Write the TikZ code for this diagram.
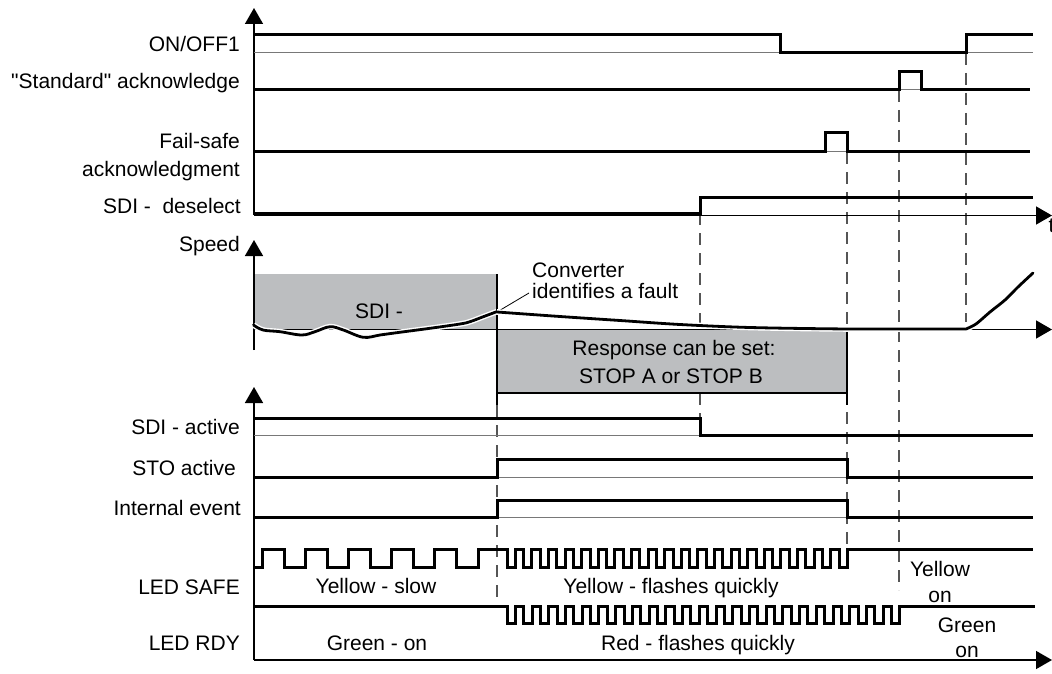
\documentclass[tikz,border=0pt]{standalone}
\usepackage{fontspec}
\setmainfont{Liberation Sans}[Ligatures=TeXOff]
\usetikzlibrary{arrows.meta}
\definecolor{boxgray}{RGB}{188,190,192}
\definecolor{thingray}{RGB}{120,120,120}
\definecolor{dashgray}{RGB}{85,85,85}
\begin{document}
\begin{tikzpicture}[x=1pt,y=-1pt,
  lbl/.style={font=\fontsize{21}{25}\selectfont, inner sep=0pt, text=black},
  sig/.style={line width=3pt, line join=miter, line cap=butt},
  thinln/.style={line width=1pt, thingray},
  axisln/.style={line width=1.5pt, -{Triangle[length=16pt,width=18pt]}},
  edge/.style={line width=1.5pt},
  vdash/.style={line width=1.2pt, dashgray, dash pattern=on 12pt off 8pt},
  curve/.style={line width=2.8pt, line join=round, line cap=round, preaction={draw, white, line width=5.6pt}}
]
\useasboundingbox (0,0) rectangle (1052,674);

% ---------- dashed guide lines ----------
\draw[vdash] (497,405) -- (497,606);
\draw[vdash] (700,213) -- (700,418);
\draw[vdash] (847,152) -- (847,549);
\draw[vdash] (899,90) -- (899,590);
\draw[vdash] (966,53) -- (966,322);

% ---------- top section ----------
\draw[axisln] (254,215) -- (254,8);
\draw[axisln] (254,215.5) -- (1052,215.5);

\node[lbl, anchor=base east] (lonoff) at (240,52) {ON/OFF1};
\node[lbl, anchor=base east] (lstd) at (240,89) {"Standard" acknowledge};
\node[lbl, anchor=base east] (lfs1) at (240,149) {Fail-safe};
\node[lbl, anchor=base east] (lfs2) at (240,176) {acknowledgment};
\node[lbl, anchor=base east] (ldes) at (241,213) {SDI -\ \ deselect};
\node[lbl, anchor=north west] (t1) at (1048.5,219) {t};

\draw[thinln] (254,53) -- (1033,53);
\draw[sig] (254,35) -- (780,35) -- (780,53) -- (966,53) -- (966,35) -- (1033,35);

\draw[thinln] (899,90) -- (921,90);
\draw[sig] (254,90) -- (899,90) -- (899,72) -- (921,72) -- (921,90) -- (1030,90);

\draw[thinln] (825,152) -- (847,152);
\draw[sig] (254,152) -- (825,152) -- (825,133) -- (847,133) -- (847,152) -- (1030,152);

\draw[sig] (254,213.5) -- (700,213.5) -- (700,197) -- (1033,197);

% ---------- speed section ----------
\fill[boxgray] (254,274) rectangle (497,329);
\fill[boxgray] (497,329) rectangle (847,393);
\draw[edge] (497,274) -- (497,405);
\draw[edge] (497,393) -- (847,393);
\draw[edge] (847,329) -- (847,405);

\draw[axisln] (254,350) -- (254,240);
\draw[axisln] (254,329.5) -- (1052,329.5);

\node[lbl, anchor=base east] (lspeed) at (240,251) {Speed};
\node[lbl, anchor=base] (tsdi) at (379,318) {SDI -};
\node[lbl, anchor=base] (tresp1) at (674,355) {Response can be set:};
\node[lbl, anchor=base] (tresp2) at (671,383) {STOP A or STOP B};
\node[lbl, anchor=base west] (tconv1) at (532,277) {Converter};
\node[lbl, anchor=base west] (tconv2) at (532,298) {identifies a fault};
\coordinate (fault) at (497,312);
\draw[line width=0.8pt, black] (fault) -- (529,293);

\draw[curve] plot[smooth, tension=0.6] coordinates {(253.5,325) (263,330) (280,331.7) (301.7,335) (315,331.7) (330,326.7) (343.3,330) (363.3,337.3) (380,335) (396.7,332.7) (430,328.3) (460,324) (470,321.7) (483.3,316.7) (496.7,311.7)};
\draw[curve] plot[smooth, tension=0.5] coordinates {(497,312) (560,316.5) (620,320.5) (680,324.5) (750,327.5) (850,329) (966,329)};
\draw[curve] plot[smooth, tension=0.5] coordinates {(966,329) (976,324) (990,312) (1005,300) (1018,287) (1033,273)};

% ---------- bottom section ----------
\draw[axisln] (254,660) -- (254,387);
\draw[axisln] (254,660) -- (1052,660);

\node[lbl, anchor=base east] (lsdia) at (240,434) {SDI - active};
\node[lbl, anchor=base east] (lsto) at (236,475) {STO active};
\node[lbl, anchor=base east] (lint) at (241,515) {Internal event};
\node[lbl, anchor=base east] (lsafe) at (240,594) {LED SAFE};
\node[lbl, anchor=base east] (lrdy) at (240,650) {LED RDY};

\draw[thinln] (254,435) -- (1033,435);
\draw[sig] (254,418) -- (700,418) -- (700,435) -- (1033,435);

\draw[thinln] (254,477) -- (1033,477);
\draw[sig] (254,477) -- (497,477) -- (497,459) -- (847,459) -- (847,477) -- (1033,477);

\draw[thinln] (254,517) -- (1033,517);
\draw[sig] (254,517) -- (497,517) -- (497,500) -- (847,500) -- (847,517) -- (1033,517);

% LED SAFE
\draw[sig] (254,567)
  \foreach \i in {0,...,4} { -- ({262+43.2*\i},567) -- ({262+43.2*\i},549) -- ({284+43.2*\i},549) -- ({284+43.2*\i},567) }
  -- (478,567) -- (478,549)
  \foreach \i in {0,...,20} { -- ({507+16.6*\i},549) -- ({507+16.6*\i},567) -- ({515.3+16.6*\i},567) -- ({515.3+16.6*\i},549) }
  -- (1033,549);

% LED RDY
\draw[sig] (254,606)
  \foreach \i in {0,...,23} { -- ({507+16.72*\i},606) -- ({507+16.72*\i},623.5) -- ({515.36+16.72*\i},623.5) -- ({515.36+16.72*\i},606) }
  -- (1035,606);

\node[lbl, anchor=base] (tys) at (376,593) {Yellow - slow};
\node[lbl, anchor=base] (tyf) at (671,593) {Yellow - flashes quickly};
\node[lbl, anchor=base] (tyon1) at (940,576) {Yellow};
\node[lbl, anchor=base] (tyon2) at (940,602) {on};
\node[lbl, anchor=base] (tgo) at (377,650) {Green - on};
\node[lbl, anchor=base] (trf) at (698,650) {Red - flashes quickly};
\node[lbl, anchor=base] (tgon1) at (967,632) {Green};
\node[lbl, anchor=base] (tgon2) at (967,657) {on};
\end{tikzpicture}
\end{document}
